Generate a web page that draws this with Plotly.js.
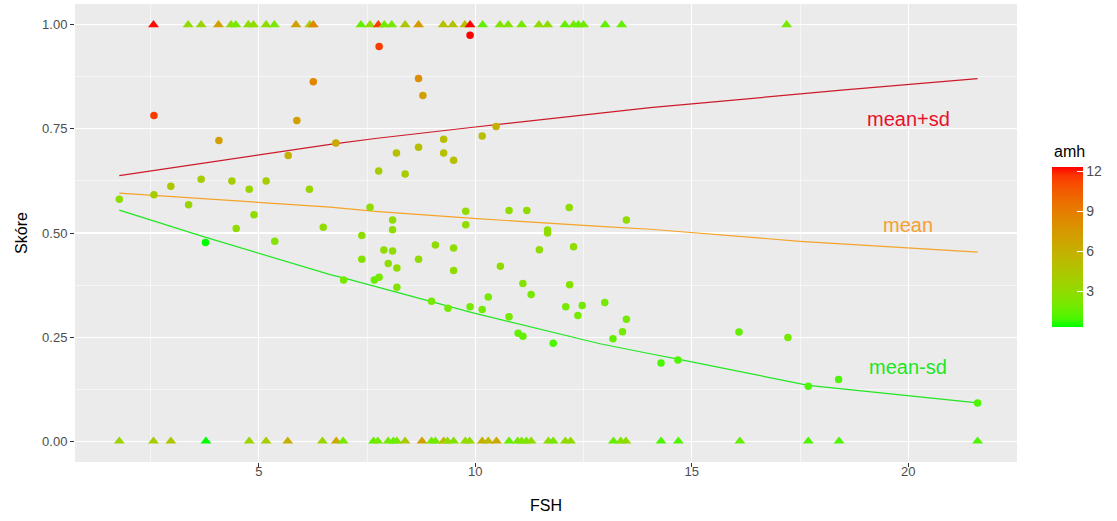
<!DOCTYPE html>
<html>
<head>
<meta charset="utf-8">
<script src="https://cdn.plot.ly/plotly-3.0.1.min.js"></script>
<style>
  html, body { margin: 0; padding: 0; background: #ffffff; }
  #chart { width: 1117px; height: 521px; }
</style>
</head>
<body>
<div id="chart"></div>
<script>
// Per-patient predicted score (circles)
const scoreFsh = [1.78, 2.58, 2.58, 2.97, 3.38, 3.67, 3.77, 4.08, 4.38, 4.48, 4.78, 4.89, 5.17, 5.37, 5.68, 5.88, 6.17, 6.26, 6.49, 6.78,
  6.96, 7.38, 7.38, 7.57, 7.67, 7.77, 7.78, 7.78, 7.89, 7.99, 8.09, 8.09, 8.09, 8.18, 8.19, 8.19, 8.38, 8.69, 8.69, 8.69,
  8.79, 8.99, 9.08, 9.27, 9.27, 9.37, 9.50, 9.50, 9.50, 9.78, 9.78, 9.88, 9.88, 10.16, 10.16, 10.30, 10.48, 10.58, 10.78, 10.78,
  10.99, 11.10, 11.10, 11.19, 11.29, 11.48, 11.67, 11.67, 11.80, 12.09, 12.17, 12.18, 12.27, 12.37, 12.47, 12.99, 13.18, 13.40, 13.49, 13.49,
  14.29, 14.68, 16.09, 17.22, 17.69, 18.39, 21.60];
const scoreValue = [0.581, 0.782, 0.592, 0.612, 0.568, 0.629, 0.477, 0.722, 0.625, 0.511, 0.605, 0.544, 0.625, 0.480, 0.686, 0.770, 0.605, 0.863, 0.514, 0.716,
  0.387, 0.494, 0.437, 0.562, 0.387, 0.649, 0.394, 0.948, 0.459, 0.427, 0.531, 0.508, 0.457, 0.692, 0.416, 0.370, 0.642, 0.871, 0.706, 0.437,
  0.830, 0.336, 0.471, 0.725, 0.692, 0.319, 0.675, 0.464, 0.410, 0.552, 0.520, 0.975, 0.323, 0.733, 0.316, 0.346, 0.756, 0.420, 0.554, 0.299,
  0.259, 0.252, 0.379, 0.554, 0.352, 0.460, 0.507, 0.500, 0.235, 0.323, 0.561, 0.376, 0.467, 0.302, 0.326, 0.333, 0.246, 0.263, 0.531, 0.293,
  0.188, 0.195, 0.262, 0.249, 0.132, 0.148, 0.092];
const scoreAmh = [3, 11.5, 4, 4.5, 3.5, 4, 0.34, 7, 4, 3, 3.5, 3, 4, 2.5, 6, 7, 3.5, 8.5, 3, 6.5,
  2, 3, 2.5, 3, 1.5, 4, 2, 11.5, 3, 3, 3, 3, 3, 5, 3, 2.5, 4, 8, 5, 3,
  7, 2, 3, 5, 5, 2, 5, 3, 3, 3, 3, 12.33, 2, 5, 2, 2, 6, 3, 3, 2,
  1.5, 1.5, 2.5, 3, 2, 3, 3, 3, 1, 2, 3, 2.5, 3, 2, 2, 2, 1.5, 2, 3, 2,
  1, 1, 1.5, 2, 1, 1, 1];

// Observed outcome (triangles): 1 = success, 0 = no success
const outcomeFsh = [2.57, 3.37, 3.67, 4.07, 4.36, 4.47, 4.76, 4.88, 5.17, 5.36, 5.86, 6.18, 6.26, 7.36, 7.57, 7.76, 7.90, 8.07, 8.38, 8.69,
  9.26, 9.48, 9.76, 9.88, 10.17, 10.57, 10.76, 11.07, 11.47, 11.67, 12.07, 12.27, 12.38, 12.50, 13.00, 13.38, 17.19,
  1.78, 2.57, 2.97, 3.78, 4.78, 5.17, 5.67, 6.47, 6.79, 6.95, 7.65, 7.75, 7.99, 8.11, 8.19, 8.38, 8.77, 8.99, 9.08, 9.27,
  9.36, 9.50, 9.77, 9.87, 10.16, 10.30, 10.49, 10.78, 10.98, 11.07, 11.18, 11.29, 11.69, 11.80, 12.08, 12.20, 13.19, 13.36, 13.48, 14.29,
  14.69, 16.11, 17.69, 18.40, 21.60];
const outcomeValue = [1, 1, 1, 1, 1, 1, 1, 1, 1, 1, 1, 1, 1, 1, 1, 1, 1, 1, 1, 1,
  1, 1, 1, 1, 1, 1, 1, 1, 1, 1, 1, 1, 1, 1, 1, 1, 1,
  0, 0, 0, 0, 0, 0, 0, 0, 0, 0, 0, 0, 0, 0, 0, 0, 0, 0, 0, 0,
  0, 0, 0, 0, 0, 0, 0, 0, 0, 0, 0, 0, 0, 0, 0, 0, 0, 0, 0, 0,
  0, 0, 0, 0, 0];
const outcomeAmh = [12.2, 3, 3.5, 7, 3, 2, 3, 3, 3, 2, 7, 4, 8.5, 1.5, 3, 11.5, 2, 2, 4.5, 7.5,
  5, 5, 5, 12.33, 1.5, 2.5, 2.5, 2, 3, 3, 1.5, 2, 1.5, 2, 1.5, 1.5, 2,
  3.5, 4, 4.5, 0.34, 3.5, 4, 6, 3.5, 6.5, 2, 1.5, 2, 2, 1.5, 2, 4.5, 7, 2, 2, 5.5,
  3, 2.5, 3, 3, 6, 5.5, 6.5, 1.5, 2, 2.5, 2, 3, 3, 2, 3, 3, 1.5, 2.5, 3, 1,
  1, 1.5, 1, 1, 1];

// Fitted curves: mean, mean + sd, mean - sd
const upperFsh = [1.78, 6.65, 7.69, 9.95, 14.04, 18.46, 21.60];
const upperValue = [0.638, 0.713, 0.727, 0.754, 0.801, 0.843, 0.871];
const meanFsh = [1.78, 6.65, 7.69, 9.95, 12.88, 14.04, 17.50, 21.60];
const meanValue = [0.596, 0.562, 0.552, 0.535, 0.516, 0.509, 0.480, 0.454];
const lowerFsh = [1.78, 3.76, 6.65, 7.00, 9.95, 12.88, 14.04, 14.68, 17.69, 21.60];
const lowerValue = [0.555, 0.490, 0.400, 0.391, 0.308, 0.234, 0.210, 0.197, 0.134, 0.092];

const curveLabels = ['mean+sd', 'mean', 'mean-sd'];
const curveLabelY = [0.775, 0.520, 0.177];
const amhTicks = [3, 6, 9, 12];
const xTicks = [5, 10, 15, 20];
const yTicks = [0, 0.25, 0.5, 0.75, 1];
const yTickText = ['0.00', '0.25', '0.50', '0.75', '1.00'];

// Green -> red gradient interpolated in CIE Lab
function toLin(c) { c /= 255; return c <= 0.04045 ? c / 12.92 : Math.pow((c + 0.055) / 1.055, 2.4); }
function fromLin(c) { const v = c <= 0.0031308 ? 12.92 * c : 1.055 * Math.pow(c, 1 / 2.4) - 0.055; return Math.max(0, Math.min(255, Math.round(v * 255))); }
const WX = 0.95047, WY = 1.0, WZ = 1.08883;
function fLab(t) { return t > 0.008856 ? Math.cbrt(t) : 7.787 * t + 16 / 116; }
function fInv(t) { return t > 0.206893 ? t * t * t : (t - 16 / 116) / 7.787; }
function rgbToLab(rgb) {
  const r = toLin(rgb[0]), g = toLin(rgb[1]), b = toLin(rgb[2]);
  const x = (0.4124 * r + 0.3576 * g + 0.1805 * b) / WX;
  const y = (0.2126 * r + 0.7152 * g + 0.0722 * b) / WY;
  const z = (0.0193 * r + 0.1192 * g + 0.9505 * b) / WZ;
  const fx = fLab(x), fy = fLab(y), fz = fLab(z);
  return [116 * fy - 16, 500 * (fx - fy), 200 * (fy - fz)];
}
function labToRgb(lab) {
  const fy = (lab[0] + 16) / 116, fx = fy + lab[1] / 500, fz = fy - lab[2] / 200;
  const x = fInv(fx) * WX, y = fInv(fy) * WY, z = fInv(fz) * WZ;
  const r = 3.2406 * x - 1.5372 * y - 0.4986 * z;
  const g = -0.9689 * x + 1.8758 * y + 0.0415 * z;
  const b = 0.0557 * x - 0.2040 * y + 1.0570 * z;
  return 'rgb(' + fromLin(r) + ',' + fromLin(g) + ',' + fromLin(b) + ')';
}
const labLow = rgbToLab([0, 255, 0]);
const labHigh = rgbToLab([255, 0, 0]);
const colorscale = [];
for (let i = 0; i <= 20; i++) {
  const t = i / 20;
  colorscale.push([t, labToRgb([0, 1, 2].map(k => labLow[k] + (labHigh[k] - labLow[k]) * t))]);
}

const traces = [
  { x: upperFsh, y: upperValue, type: 'scatter', mode: 'lines', line: { color: '#cd1a2a', width: 1.2 }, hoverinfo: 'skip' },
  { x: meanFsh, y: meanValue, type: 'scatter', mode: 'lines', line: { color: '#f5a42a', width: 1.2 }, hoverinfo: 'skip' },
  { x: lowerFsh, y: lowerValue, type: 'scatter', mode: 'lines', line: { color: '#22e622', width: 1.2 }, hoverinfo: 'skip' },
  { x: scoreFsh, y: scoreValue, type: 'scatter', mode: 'markers',
    marker: { symbol: 'circle', size: 7.5, color: scoreAmh, coloraxis: 'coloraxis', line: { width: 0 } } },
  { x: outcomeFsh, y: outcomeValue, type: 'scatter', mode: 'markers',
    marker: { symbol: 'triangle-up', size: 9.5, color: outcomeAmh, coloraxis: 'coloraxis', line: { width: 0 } } }
];

const FONT = 'Liberation Sans, Arial, sans-serif';
const curveColors = ['#e8102a', '#f5a030', '#1ee61e'];
const annotations = curveLabels.map((txt, i) => ({
  x: 20, y: curveLabelY[i], xref: 'x', yref: 'y', text: txt, showarrow: false,
  xanchor: 'center', yanchor: 'middle', font: { family: FONT, size: 20, color: curveColors[i] }
}));

// Colour bar placement
const plotTop = 4, plotHeight = 458, barLen = 160, barThick = 31;
const barCenterY = 0.47;
const barX = 1.0372;
annotations.push({
  x: barX, y: 0.677, xref: 'paper', yref: 'paper', text: 'amh', showarrow: false,
  xanchor: 'left', yanchor: 'middle', font: { family: FONT, size: 16, color: '#000000' }
});

const gridMinor = 0.55, gridMajor = 1.1;
const layout = {
  width: 1117, height: 521,
  margin: { l: 75, r: 100, t: plotTop, b: 521 - plotTop - plotHeight, pad: 0 },
  paper_bgcolor: '#ffffff', plot_bgcolor: '#ebebeb',
  showlegend: false,
  font: { family: FONT, color: '#4d4d4d' },
  xaxis: {
    range: [0.757, 22.51], tickvals: xTicks, ticktext: xTicks.map(String),
    showgrid: true, gridcolor: '#ffffff', gridwidth: gridMajor, zeroline: false, showline: false,
    ticks: 'outside', ticklen: 4, tickwidth: 1, tickcolor: '#333333', ticklabelstandoff: -7,
    tickfont: { size: 13, color: '#4d4d4d' },
    minor: { tickvals: [2.5, 7.5, 12.5, 17.5, 22.5], showgrid: true, gridcolor: '#ffffff', gridwidth: gridMinor, ticks: '' },
    title: { text: 'FSH', font: { size: 16, color: '#000000' }, standoff: 22 }
  },
  yaxis: {
    range: [-0.05, 1.05], tickvals: yTicks, ticktext: yTickText,
    showgrid: true, gridcolor: '#ffffff', gridwidth: gridMajor, zeroline: false, showline: false,
    ticks: 'outside', ticklen: 4, tickwidth: 1, tickcolor: '#333333',
    tickfont: { size: 13, color: '#4d4d4d' },
    minor: { tickvals: [0.125, 0.375, 0.625, 0.875], showgrid: true, gridcolor: '#ffffff', gridwidth: gridMinor, ticks: '' },
    title: { text: 'Skóre', font: { size: 16, color: '#000000' }, standoff: 10 }
  },
  coloraxis: {
    colorscale: colorscale,
    colorbar: {
      thickness: barThick, len: barLen, lenmode: 'pixels',
      x: barX, xanchor: 'left', xpad: 0, y: barCenterY, yanchor: 'middle', ypad: 0,
      outlinewidth: 0, tickvals: amhTicks, ticktext: amhTicks.map(String),
      ticks: 'inside', ticklen: 6, tickwidth: 1, tickcolor: '#ffffff',
      tickfont: { size: 14, color: '#4d4d4d' },
      title: { text: '' }
    }
  },
  annotations: annotations
};

Plotly.newPlot('chart', traces, layout, { displayModeBar: false, staticPlot: true });
</script>
</body>
</html>
